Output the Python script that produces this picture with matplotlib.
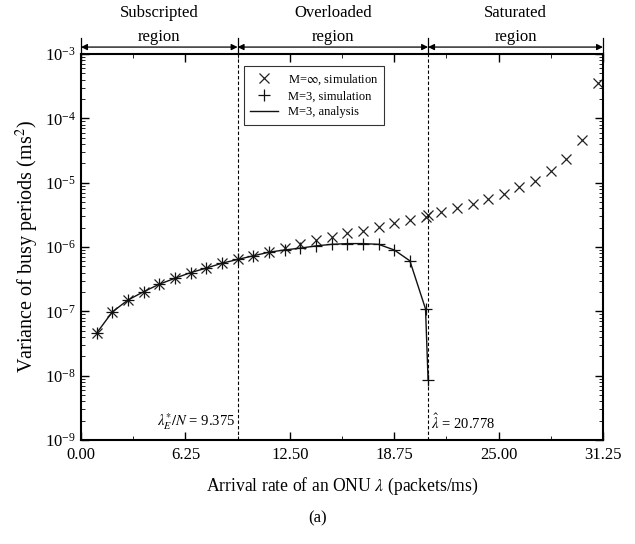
import matplotlib

matplotlib.use("Agg")
import matplotlib.pyplot as plt
from matplotlib.ticker import LogLocator, MultipleLocator, FormatStrFormatter, NullFormatter

plt.rcParams["font.family"] = ["Liberation Serif", "DejaVu Serif"]
plt.rcParams["mathtext.fontset"] = "stix"

# M = infinity, simulation
lam_inf = [0.9375, 1.875, 2.8125, 3.75, 4.6875, 5.625, 6.5625, 7.5, 8.4375, 9.375,
           10.3125, 11.25, 12.1875, 13.125, 14.0625, 15.0, 15.9375, 16.875, 17.8125,
           18.75, 19.6875, 20.625, 20.778, 21.5625, 22.5, 23.4375, 24.375, 25.3125,
           26.25, 27.1875, 28.125, 29.0625, 30.0, 30.9375]
var_inf = [4.6e-8, 9.8e-8, 1.5e-7, 2.02e-7, 2.64e-7, 3.27e-7, 4.0e-7, 4.7e-7, 5.6e-7, 6.4e-7,
           7.3e-7, 8.3e-7, 9.8e-7, 1.13e-6, 1.29e-6, 1.45e-6, 1.64e-6, 1.8e-6, 2.03e-6,
           2.34e-6, 2.64e-6, 2.97e-6, 3.1e-6, 3.47e-6, 4.0e-6, 4.68e-6, 5.6e-6, 6.7e-6,
           8.5e-6, 1.08e-5, 1.53e-5, 2.32e-5, 4.6e-5, 3.6e-4]

# M = 3, simulation and analysis
lam_m3 = [0.9375, 1.875, 2.8125, 3.75, 4.6875, 5.625, 6.5625, 7.5, 8.4375, 9.375,
          10.3125, 11.25, 12.1875, 13.125, 14.0625, 15.0, 15.9375, 16.875, 17.8125,
          18.75, 19.6875, 20.625, 20.778]
var_m3 = [4.6e-8, 9.8e-8, 1.5e-7, 2.02e-7, 2.64e-7, 3.27e-7, 4.0e-7, 4.7e-7, 5.6e-7, 6.4e-7,
          7.3e-7, 8.3e-7, 9.0e-7, 9.6e-7, 1.04e-6, 1.1e-6, 1.13e-6, 1.13e-6, 1.1e-6,
          9.0e-7, 6.1e-7, 1.09e-7, 8.6e-9]

LAM_E = 9.375
LAM_HAT = 20.778
XMAX = 31.25
REGIONS = [("Subscripted", 0.0, LAM_E),
           ("Overloaded", LAM_E, LAM_HAT),
           ("Saturated", LAM_HAT, XMAX)]

fig = plt.figure(figsize=(6.35, 5.44), dpi=100)
ax = fig.add_axes([0.1276, 0.1912, 0.822, 0.7095])

ax.plot(lam_inf, var_inf, ls="none", marker="x", ms=7, mew=0.9, color="#222222",
        label=r"M=$\infty$, simulation")
ax.plot(lam_m3, var_m3, ls="none", marker="+", ms=8, mew=0.9, color="#111111",
        label="M=3, simulation")
ax.plot(lam_m3, var_m3, ls="-", lw=1.0, color="#111111", label="M=3, analysis")

ax.axvline(LAM_E, color="black", ls=(0, (3, 2)), lw=0.8)
ax.axvline(LAM_HAT, color="black", ls=(0, (3, 2)), lw=0.8)

ax.set_yscale("log")
ax.set_xlim(0, XMAX)
ax.set_ylim(1e-9, 1e-3)
ax.xaxis.set_major_locator(MultipleLocator(6.25))
ax.xaxis.set_minor_locator(MultipleLocator(3.125))
ax.xaxis.set_major_formatter(FormatStrFormatter("%.2f"))
ax.yaxis.set_major_locator(LogLocator(base=10, numticks=10))
ax.yaxis.set_minor_locator(LogLocator(base=10, subs=range(2, 10), numticks=10))
ax.yaxis.set_minor_formatter(NullFormatter())
ax.tick_params(which="both", direction="in", top=True, right=True, labelsize=12)
ax.tick_params(axis="x", pad=5)
ax.tick_params(which="major", length=6, width=1.0)
ax.tick_params(which="minor", length=3, width=0.6)
for s in ax.spines.values():
    s.set_linewidth(1.5)

ax.set_xlabel(r"Arrival rate of an ONU $\lambda$ (packets/ms)", fontsize=12.7, labelpad=9)
ax.set_ylabel(r"Variance of busy periods (ms$^2$)", fontsize=14.5, labelpad=3)

ax.text(LAM_E - 0.15, 1.35e-9, r"$\lambda_E^{*}/N$ = 9.375", ha="right", va="bottom", fontsize=10.5)
ax.text(LAM_HAT + 0.15, 1.35e-9, r"$\hat{\lambda}$ = 20.778", ha="left", va="bottom", fontsize=10.5)

leg = ax.legend(loc="upper left", bbox_to_anchor=(0.3, 0.985), fontsize=9, frameon=True,
                fancybox=False, edgecolor="black", handlelength=2.2, borderpad=0.5,
                labelspacing=0.3)
leg.get_frame().set_linewidth(0.8)

# region arrows above the plot
trans = ax.get_xaxis_transform()
for label, x0, x1 in REGIONS:
    ax.annotate("", xy=(x0, 1.018), xytext=(x1, 1.018), xycoords=trans, textcoords=trans,
                arrowprops=dict(arrowstyle="<|-|>", color="black", lw=0.9,
                                shrinkA=0, shrinkB=0, mutation_scale=9),
                annotation_clip=False)
    ax.text((x0 + x1) / 2, 1.044, "region", transform=trans, ha="center", va="center",
            fontsize=12)
    ax.text((x0 + x1) / 2, 1.106, label, transform=trans, ha="center", va="center",
            fontsize=12)
for x in [0.0, LAM_E, LAM_HAT, XMAX]:
    ax.plot([x, x], [1.0, 1.041], transform=trans, color="black", lw=0.9, clip_on=False)

fig.text(0.5, 0.047, "(a)", ha="center", va="center", fontsize=12)

fig.savefig("out.png", dpi=100)
